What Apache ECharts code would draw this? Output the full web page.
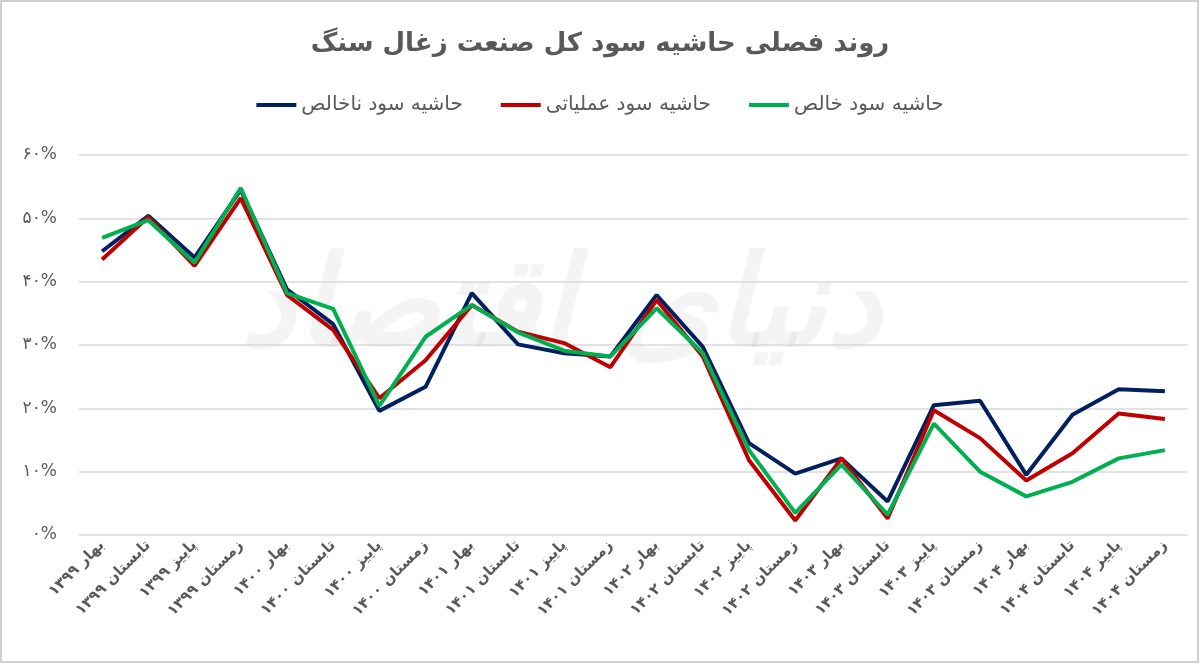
<!DOCTYPE html>
<html>
<head>
<meta charset="utf-8">
<script src="https://cdn.jsdelivr.net/npm/echarts@6/dist/echarts.min.js"></script>
<style>
  html, body { margin: 0; padding: 0; background: #fff; }
  #chart { width: 1200px; height: 664px; }
</style>
</head>
<body>
<div id="chart"></div>
<script>
// فصل‌ها
const categories = [
  'بهار ۱۳۹۹', 'تابستان ۱۳۹۹', 'پاییز ۱۳۹۹', 'زمستان ۱۳۹۹',
  'بهار ۱۴۰۰', 'تابستان ۱۴۰۰', 'پاییز ۱۴۰۰', 'زمستان ۱۴۰۰',
  'بهار ۱۴۰۱', 'تابستان ۱۴۰۱', 'پاییز ۱۴۰۱', 'زمستان ۱۴۰۱',
  'بهار ۱۴۰۲', 'تابستان ۱۴۰۲', 'پاییز ۱۴۰۲', 'زمستان ۱۴۰۲',
  'بهار ۱۴۰۳', 'تابستان ۱۴۰۳', 'پاییز ۱۴۰۳', 'زمستان ۱۴۰۳',
  'بهار ۱۴۰۴', 'تابستان ۱۴۰۴', 'پاییز ۱۴۰۴', 'زمستان ۱۴۰۴'
]

// درصد
const grossMargin = [44.8, 50.4, 43.8, 54.5, 38.8, 33.3, 19.6, 23.4, 38.2, 30.1, 28.7, 28.2,
  37.9, 29.7, 14.5, 9.7, 12.1, 5.3, 20.5, 21.2, 9.5, 19.0, 23.0, 22.7]
const operatingMargin = [43.5, 50.2, 42.5, 53.2, 37.9, 32.4, 21.6, 27.6, 36.3, 32.1, 30.3, 26.5,
  37.1, 28.2, 11.8, 2.3, 12.1, 2.6, 19.7, 15.3, 8.6, 12.9, 19.2, 18.3]
const netMargin = [46.9, 49.7, 43.0, 54.8, 38.2, 35.7, 20.4, 31.3, 36.3, 32.0, 29.1, 28.2,
  35.8, 28.7, 13.4, 3.5, 11.1, 3.2, 17.6, 10.0, 6.1, 8.4, 12.1, 13.4]

const yTickLabels = ['۰%', '۱۰%', '۲۰%', '۳۰%', '۴۰%', '۵۰%', '۶۰%']

const FONT = 'DejaVu Sans'
const TEXT_COLOR = '#595959'

const chart = echarts.init(document.getElementById('chart'))

chart.setOption({
  backgroundColor: '#fff',
  animation: false,
  graphic: [
    {
      type: 'rect',
      shape: { x: 1, y: 1, width: 1197, height: 661 },
      style: { fill: 'none', stroke: '#d0d0d0', lineWidth: 2 },
      z: -10
    },
    {
      // واترمارک
      type: 'text',
      left: 240,
      top: 250,
      silent: true,
      z: -5,
      style: {
        text: 'دنیای اقتصاد',
        font: 'bold italic 125px "DejaVu Sans"',
        fill: 'rgba(0,0,0,0.045)'
      }
    }
  ],
  title: {
    text: 'روند فصلی حاشیه سود کل صنعت زغال سنگ',
    left: 'center',
    top: 26,
    textStyle: { fontFamily: FONT, fontSize: 26, fontWeight: 'bold', color: TEXT_COLOR }
  },
  legend: {
    top: 90,
    left: 'center',
    icon: 'rect',
    itemWidth: 40,
    itemHeight: 4,
    itemGap: 38,
    textStyle: { fontFamily: FONT, fontSize: 20, color: TEXT_COLOR }
  },
  grid: { left: 79, right: 12, top: 155, bottom: 129 },
  xAxis: {
    type: 'category',
    data: categories,
    boundaryGap: true,
    axisLine: { show: false },
    axisTick: { show: false },
    axisLabel: {
      rotate: 45,
      interval: 0,
      margin: 8,
      fontFamily: FONT,
      fontSize: 15,
      fontWeight: 'bold',
      color: TEXT_COLOR
    }
  },
  yAxis: {
    type: 'value',
    min: 0,
    max: 60,
    interval: 10,
    axisLine: { show: false },
    axisTick: { show: false },
    splitLine: { lineStyle: { color: '#d9d9d9', width: 1.5 } },
    axisLabel: {
      margin: 22,
      fontFamily: FONT,
      fontSize: 17,
      color: TEXT_COLOR,
      formatter: v => yTickLabels[Math.round(v / 10)]
    }
  },
  series: [
    {
      name: 'حاشیه سود ناخالص',
      type: 'line',
      data: grossMargin,
      symbol: 'none',
      lineStyle: { width: 4, color: '#002060' },
      itemStyle: { color: '#002060' }
    },
    {
      name: 'حاشیه سود عملیاتی',
      type: 'line',
      data: operatingMargin,
      symbol: 'none',
      lineStyle: { width: 4, color: '#C00000' },
      itemStyle: { color: '#C00000' }
    },
    {
      name: 'حاشیه سود خالص',
      type: 'line',
      data: netMargin,
      symbol: 'none',
      lineStyle: { width: 4, color: '#00B050' },
      itemStyle: { color: '#00B050' }
    }
  ]
})
</script>
</body>
</html>
